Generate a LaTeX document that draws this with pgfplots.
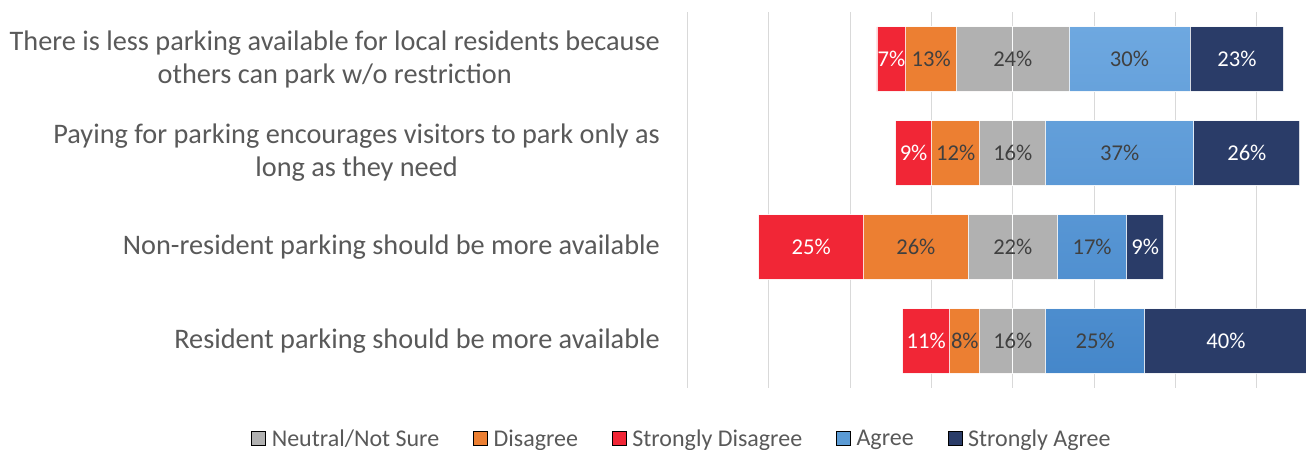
\documentclass[border=0pt]{standalone}
\usepackage{fontspec}
\setmainfont{Carlito}
\usepackage{pgfplots}
\usepackage{pgfplotstable}
\pgfplotsset{compat=1.18}
\definecolor{cRed}{HTML}{F12636}
\definecolor{cOrange}{HTML}{EC7F32}
\definecolor{cGray}{HTML}{B1B1B1}
\definecolor{cBlue}{HTML}{5B9BD5}
\definecolor{cBlueTop}{HTML}{6EA8E0}
\definecolor{cBlueBot}{HTML}{4587CA}
\definecolor{cNavy}{HTML}{2A3C68}
\definecolor{cGrid}{HTML}{D9D9D9}
\definecolor{cText}{HTML}{595959}
\definecolor{cDark}{HTML}{404040}

% bar lengths as drawn (percent) and the printed labels
\pgfplotstableread{
row sd   d    n    a    sa   lsd ld ln la lsa
0   7.1  12.5 27.6 29.8 23.0 7   13 24 30 23
1   8.8  11.9 16.2 36.4 26.1 9   12 16 37 26
2   25.8 25.7 22.0 17.0 9.1  25  26 22 17 9
3   11.6 7.4  16.2 24.3 40.0 11  8  16 25 40
}\survey

\begin{document}
\begin{tikzpicture}
\begin{axis}[
  at={(687.5bp,62bp)}, anchor=south west,
  scale only axis, width=618.5bp, height=376bp,
  xmin=-80, xmax=72.1, ymin=-0.5, ymax=3.5, y dir=reverse,
  axis line style={draw=none}, major tick length=0pt,
  xtick={-80,-60,...,60}, xticklabels={},
  xmajorgrids, grid style={draw=cGrid, line width=1.2bp},
  ytick={0,1,2,3},
  yticklabels={{There is less parking available for local residents because\\others can park w/o restriction},
               {Paying for parking encourages visitors to park only as\\long as they need},
               {Non-resident parking should be more available},
               {Resident parking should be more available}},
  yticklabel style={align=center, anchor=east, inner sep=0pt, xshift=-27.5bp,
                    text=cText, font=\fontsize{28.3bp}{33bp}\selectfont},
  bar width=64.5bp, bar shift=0pt,
  barsty/.style={xbar, forget plot, draw=white, draw opacity=0.8, line width=0.8bp},
  lblsty/.style={draw=none, mark=none, forget plot,
                 nodes near coords={\pgfplotspointmeta\%},
                 point meta=explicit symbolic,
                 every node near coord/.append style={anchor=center, inner sep=0pt,
                   text=#1, font=\fontsize{22.6bp}{26bp}\selectfont}},
  legend image code/.code={\fill[#1] (0bp,-7bp) rectangle (14bp,7bp);},
  legend columns=5,
  legend cell align=left,
  legend style={at={(-0.0089,-0.1343)}, anchor=center, draw=none, fill=none,
                font=\fontsize{24bp}{28bp}\selectfont, text=cText,
                /tikz/every odd column/.append style={column sep=4bp},
                /tikz/every even column/.append style={column sep=32bp}},
]
% negative side (drawn outermost first)
\addplot[barsty, fill=cRed]    table[x expr={-(\thisrow{n}/2+\thisrow{d}+\thisrow{sd})}, y=row]{\survey};
\addplot[barsty, fill=cOrange] table[x expr={-(\thisrow{n}/2+\thisrow{d})}, y=row]{\survey};
\addplot[barsty, fill=cGray]   table[x expr={-(\thisrow{n}/2)}, y=row]{\survey};
% positive side
\addplot[barsty, fill=cNavy]   table[x expr={\thisrow{n}/2+\thisrow{a}+\thisrow{sa}}, y=row]{\survey};
\addplot[barsty, top color=cBlueTop, bottom color=cBlueBot] table[x expr={\thisrow{n}/2+\thisrow{a}}, y=row]{\survey};
\addplot[barsty, fill=cGray]   table[x expr={\thisrow{n}/2}, y=row]{\survey};
% labels
\addplot[lblsty=white] table[x expr={-(\thisrow{n}/2+\thisrow{d}+\thisrow{sd}/2)}, y=row, meta=lsd]{\survey};
\addplot[lblsty=cDark] table[x expr={-(\thisrow{n}/2+\thisrow{d}/2)}, y=row, meta=ld]{\survey};
\addplot[lblsty=cDark] table[x expr={0*\thisrow{n}}, y=row, meta=ln]{\survey};
\addplot[lblsty=cDark] table[x expr={\thisrow{n}/2+\thisrow{a}/2}, y=row, meta=la]{\survey};
\addplot[lblsty=white] table[x expr={\thisrow{n}/2+\thisrow{a}+\thisrow{sa}/2}, y=row, meta=lsa]{\survey};
% legend
\addlegendimage{fill=cGray}
\addlegendentry{Neutral/Not Sure}
\addlegendimage{fill=cOrange}
\addlegendentry{Disagree}
\addlegendimage{fill=cRed}
\addlegendentry{Strongly Disagree}
\addlegendimage{fill=cBlue}
\addlegendentry{Agree}
\addlegendimage{fill=cNavy}
\addlegendentry{Strongly Agree}
\end{axis}
\pgfresetboundingbox
\path[use as bounding box] (0bp,0bp) rectangle (1306bp,450bp);
\end{tikzpicture}
\end{document}
